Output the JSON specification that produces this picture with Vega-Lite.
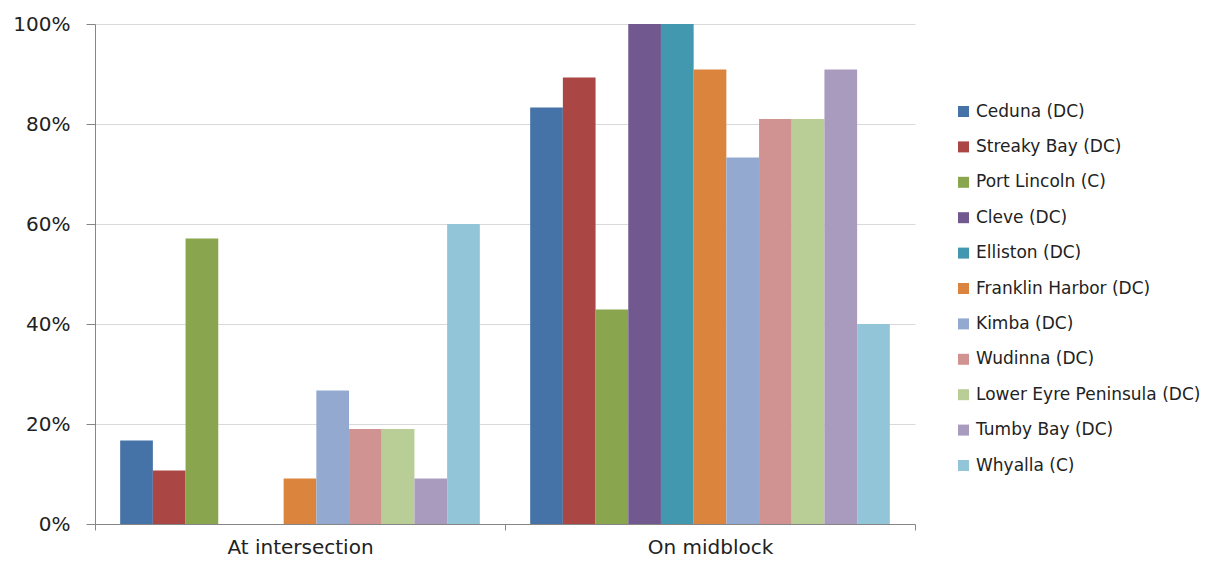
{
  "$schema": "https://vega.github.io/schema/vega-lite/v6.json",
  "autosize": {"type": "none"},
  "padding": {"left": 95, "top": 24, "right": 301, "bottom": 38},
  "width": 820,
  "height": 500,
  "background": "white",
  "config": {
    "view": {"stroke": null},
    "font": "DejaVu Sans"
  },
  "data": {
    "values": [
      {"location": "At intersection", "council": "Ceduna (DC)", "share": 0.167},
      {"location": "At intersection", "council": "Streaky Bay (DC)", "share": 0.107},
      {"location": "At intersection", "council": "Port Lincoln (C)", "share": 0.571},
      {"location": "At intersection", "council": "Cleve (DC)", "share": 0},
      {"location": "At intersection", "council": "Elliston (DC)", "share": 0},
      {"location": "At intersection", "council": "Franklin Harbor (DC)", "share": 0.091},
      {"location": "At intersection", "council": "Kimba (DC)", "share": 0.267},
      {"location": "At intersection", "council": "Wudinna (DC)", "share": 0.19},
      {"location": "At intersection", "council": "Lower Eyre Peninsula (DC)", "share": 0.19},
      {"location": "At intersection", "council": "Tumby Bay (DC)", "share": 0.091},
      {"location": "At intersection", "council": "Whyalla (C)", "share": 0.6},
      {"location": "On midblock", "council": "Ceduna (DC)", "share": 0.833},
      {"location": "On midblock", "council": "Streaky Bay (DC)", "share": 0.893},
      {"location": "On midblock", "council": "Port Lincoln (C)", "share": 0.429},
      {"location": "On midblock", "council": "Cleve (DC)", "share": 1.0},
      {"location": "On midblock", "council": "Elliston (DC)", "share": 1.0},
      {"location": "On midblock", "council": "Franklin Harbor (DC)", "share": 0.909},
      {"location": "On midblock", "council": "Kimba (DC)", "share": 0.733},
      {"location": "On midblock", "council": "Wudinna (DC)", "share": 0.81},
      {"location": "On midblock", "council": "Lower Eyre Peninsula (DC)", "share": 0.81},
      {"location": "On midblock", "council": "Tumby Bay (DC)", "share": 0.909},
      {"location": "On midblock", "council": "Whyalla (C)", "share": 0.4}
    ]
  },
  "mark": {"type": "bar"},
  "encoding": {
    "x": {
      "field": "location",
      "type": "nominal",
      "sort": ["At intersection", "On midblock"],
      "scale": {"paddingInner": 0, "paddingOuter": 0},
      "axis": {
        "title": null,
        "labelAngle": 0,
        "labelFontSize": 20,
        "labelColor": "#222222",
        "labelPadding": 7,
        "tickBand": "extent",
        "tickSize": 6,
        "tickColor": "#868686",
        "domainColor": "#868686",
        "grid": false
      }
    },
    "xOffset": {
      "field": "council",
      "type": "nominal",
      "sort": ["Ceduna (DC)", "Streaky Bay (DC)", "Port Lincoln (C)", "Cleve (DC)", "Elliston (DC)", "Franklin Harbor (DC)", "Kimba (DC)", "Wudinna (DC)", "Lower Eyre Peninsula (DC)", "Tumby Bay (DC)", "Whyalla (C)"],
      "scale": {"paddingInner": 0, "paddingOuter": 0.77}
    },
    "y": {
      "field": "share",
      "type": "quantitative",
      "scale": {"domain": [0, 1], "nice": false},
      "axis": {
        "title": null,
        "format": ".0%",
        "values": [0, 0.2, 0.4, 0.6, 0.8, 1],
        "labelFontSize": 20,
        "labelColor": "#222222",
        "labelPadding": 16,
        "tickSize": 9,
        "tickColor": "#868686",
        "domainColor": "#868686",
        "gridColor": "#d9d9d9",
        "grid": true
      }
    },
    "color": {
      "field": "council",
      "type": "nominal",
      "sort": ["Ceduna (DC)", "Streaky Bay (DC)", "Port Lincoln (C)", "Cleve (DC)", "Elliston (DC)", "Franklin Harbor (DC)", "Kimba (DC)", "Wudinna (DC)", "Lower Eyre Peninsula (DC)", "Tumby Bay (DC)", "Whyalla (C)"],
      "scale": {
        "domain": ["Ceduna (DC)", "Streaky Bay (DC)", "Port Lincoln (C)", "Cleve (DC)", "Elliston (DC)", "Franklin Harbor (DC)", "Kimba (DC)", "Wudinna (DC)", "Lower Eyre Peninsula (DC)", "Tumby Bay (DC)", "Whyalla (C)"],
        "range": ["#4572A7", "#AA4643", "#89A54E", "#71588F", "#4198AF", "#DB843D", "#93A9CF", "#D19392", "#B9CD96", "#A99BBD", "#92C5D8"]
      },
      "legend": {
        "title": null,
        "orient": "none",
        "legendX": 860,
        "legendY": 79,
        "symbolType": "square",
        "symbolSize": 121,
        "symbolStrokeWidth": 0,
        "labelFontSize": 17,
        "labelColor": "#222222",
        "labelOffset": 4,
        "rowPadding": 17.4,
        "labelLimit": 300
      }
    }
  }
}
